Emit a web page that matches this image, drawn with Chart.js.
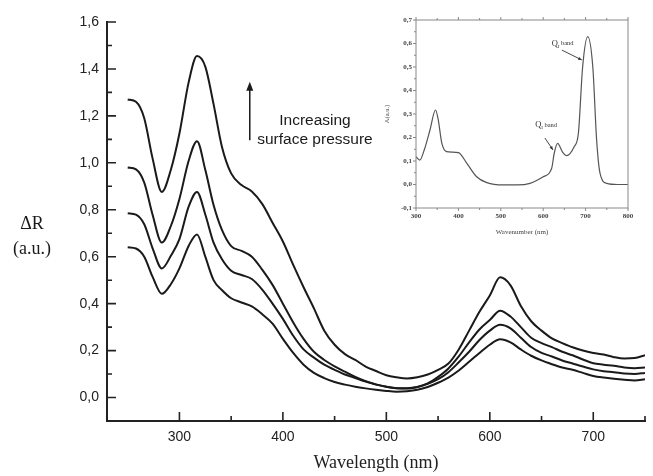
<!DOCTYPE html>
<html>
<head>
<meta charset="utf-8">
<script src="https://cdn.jsdelivr.net/npm/chart.js@4"></script>
<style>
  html, body { margin: 0; padding: 0; background: #fff; }
  #wrap { position: relative; width: 653px; height: 476px; }
  #main { position: absolute; left: 0; top: 0; }
  #inset { position: absolute; left: 370px; top: 6px; }
</style>
</head>
<body>
<div id="wrap">
  <canvas id="main" width="653" height="476" style="width:653px;height:476px"></canvas>
  <canvas id="inset" width="272" height="236" style="width:272px;height:236px"></canvas>
</div>
<script>
// main spectra: wavelength (nm) and four ΔR curves, lowest to highest surface pressure
const wavelength = [250, 258, 266, 274, 283, 292, 300, 309, 317, 325, 333, 341, 350,
  360, 370, 380, 390, 400, 410, 420, 430, 440, 450, 460, 470, 480, 490, 500,
  510, 520, 530, 540, 550, 560, 570, 580, 590, 600, 610, 620, 630, 640, 650,
  660, 670, 680, 690, 700, 710, 720, 730, 740, 750];

const curve1 = [0.64, 0.635, 0.60, 0.515, 0.442, 0.485, 0.55, 0.647, 0.695, 0.60, 0.50, 0.458, 0.423,
  0.405, 0.388, 0.355, 0.315, 0.25, 0.19, 0.14, 0.105, 0.083, 0.066, 0.055, 0.046, 0.039, 0.033, 0.028,
  0.025, 0.027, 0.033, 0.045, 0.063, 0.085, 0.115, 0.152, 0.19, 0.225, 0.248, 0.235, 0.205, 0.178, 0.158,
  0.142, 0.128, 0.118, 0.105, 0.092, 0.085, 0.08, 0.076, 0.073, 0.078];

const curve2 = [0.785, 0.779, 0.738, 0.637, 0.55, 0.606, 0.675, 0.814, 0.876, 0.78, 0.66, 0.59, 0.54,
  0.522, 0.505, 0.46, 0.40, 0.335, 0.263, 0.205, 0.17, 0.14, 0.118, 0.098, 0.083, 0.068, 0.055, 0.046,
  0.04, 0.04, 0.045, 0.058, 0.078, 0.108, 0.15, 0.195, 0.245, 0.285, 0.31, 0.295, 0.255, 0.215, 0.19,
  0.175, 0.158, 0.145, 0.132, 0.12, 0.112, 0.108, 0.102, 0.10, 0.105];

const curve3 = [0.98, 0.972, 0.916, 0.78, 0.66, 0.734, 0.846, 1.01, 1.092, 0.97, 0.82, 0.715, 0.645,
  0.625, 0.60, 0.545, 0.48, 0.40, 0.32, 0.25, 0.195, 0.16, 0.133, 0.11, 0.088, 0.07, 0.056, 0.046,
  0.04, 0.038, 0.045, 0.06, 0.088, 0.124, 0.175, 0.235, 0.29, 0.33, 0.37, 0.345, 0.30, 0.255, 0.232,
  0.215, 0.195, 0.18, 0.162, 0.146, 0.14, 0.135, 0.128, 0.125, 0.128];

const curve4 = [1.27, 1.26, 1.19, 1.02, 0.876, 0.975, 1.125, 1.345, 1.455, 1.41, 1.25, 1.07, 0.955,
  0.905, 0.878, 0.825, 0.745, 0.665, 0.565, 0.47, 0.38, 0.285, 0.225, 0.185, 0.16, 0.132, 0.113, 0.095,
  0.086, 0.081, 0.086, 0.098, 0.118, 0.145, 0.205, 0.285, 0.365, 0.435, 0.512, 0.478, 0.39, 0.325, 0.285,
  0.252, 0.232, 0.214, 0.20, 0.19, 0.183, 0.172, 0.166, 0.168, 0.18];

// inset absorption spectrum
const insetX = [300, 309, 320, 333, 346, 352, 361, 372, 385, 400, 420, 443, 467, 505, 540, 569,
  600, 620, 626, 634, 645, 655, 673, 683, 693, 705, 717, 726, 734, 750, 775, 800];
const insetA = [0.118, 0.104, 0.15, 0.232, 0.317, 0.28, 0.175, 0.14, 0.138, 0.136, 0.09, 0.033, 0.008,
  -0.002, -0.002, 0.005, 0.033, 0.069, 0.133, 0.175, 0.14, 0.123, 0.161, 0.218, 0.50, 0.629, 0.50,
  0.19, 0.048, 0.005, 0.0, 0.0];

// annotations (in data units)
const noteLines = ['Increasing', 'surface pressure'];
const noteAt = { x: 431, y: [1.18, 1.098] };
const arrowAt = { x: 368, from: 1.096, to: 1.345 };
const yTitle = ['ΔR', '(a.u.)'];
const qBands = [
  { x: 620, y: 0.60, ax0: 644, ay0: 0.572, ax1: 691, ay1: 0.53 },
  { x: 581, y: 0.253, ax0: 604, ay0: 0.198, ax1: 623, ay1: 0.147 }
];

function isMajor(v, step) {
  const r = v / step;
  return Math.abs(r - Math.round(r)) < 1e-6;
}

// tick marks with major/minor lengths (chart.js grid ticks have one length only)
const tickMarks = {
  id: 'tickMarks',
  afterDraw(chart, args, o) {
    const { ctx, chartArea: a, scales } = chart;
    const sx = scales.x, sy = scales.y;
    const dir = o.inward ? -1 : 1;
    ctx.save();
    ctx.strokeStyle = o.color;
    ctx.lineWidth = o.width;
    ctx.beginPath();
    sx.ticks.forEach(t => {
      const p = sx.getPixelForValue(t.value);
      const len = isMajor(t.value, o.xMajor) ? o.major : o.minor;
      ctx.moveTo(p, a.bottom);
      ctx.lineTo(p, a.bottom + dir * len);
      if (o.top) {
        ctx.moveTo(p, a.top);
        ctx.lineTo(p, a.top - dir * len);
      }
    });
    sy.ticks.forEach(t => {
      const p = sy.getPixelForValue(t.value);
      const len = isMajor(t.value, o.yMajor) ? o.major : o.minor;
      ctx.moveTo(a.left, p);
      ctx.lineTo(a.left - dir * len, p);
    });
    ctx.stroke();
    if (o.box) ctx.strokeRect(a.left, a.top, a.right - a.left, a.bottom - a.top);
    ctx.restore();
  }
};

const mainNotes = {
  id: 'mainNotes',
  afterDraw(chart) {
    const { ctx, chartArea: a, scales: { x, y } } = chart;
    ctx.save();
    ctx.fillStyle = '#1a1a1a';
    ctx.strokeStyle = '#1a1a1a';
    ctx.textAlign = 'center';
    ctx.textBaseline = 'middle';
    ctx.font = '15.5px "Liberation Sans", Arial, sans-serif';
    noteLines.forEach((s, i) => ctx.fillText(s, x.getPixelForValue(noteAt.x), y.getPixelForValue(noteAt.y[i])));

    const ax = x.getPixelForValue(arrowAt.x);
    const yTip = y.getPixelForValue(arrowAt.to);
    ctx.lineWidth = 1.5;
    ctx.beginPath();
    ctx.moveTo(ax, y.getPixelForValue(arrowAt.from));
    ctx.lineTo(ax, yTip + 6);
    ctx.stroke();
    ctx.beginPath();
    ctx.moveTo(ax, yTip);
    ctx.lineTo(ax - 3.5, yTip + 9);
    ctx.lineTo(ax + 3.5, yTip + 9);
    ctx.closePath();
    ctx.fill();

    ctx.font = '18px "Liberation Serif", "Times New Roman", serif';
    ctx.fillText(yTitle[0], a.left - 75, 224);
    ctx.fillText(yTitle[1], a.left - 75, 249);
    ctx.restore();
  }
};

const insetNotes = {
  id: 'insetNotes',
  afterDraw(chart) {
    const { ctx, scales: { x, y } } = chart;
    ctx.save();
    ctx.fillStyle = '#333';
    ctx.strokeStyle = '#333';
    ctx.textBaseline = 'middle';
    ctx.textAlign = 'left';
    qBands.forEach(q => {
      let px = x.getPixelForValue(q.x);
      const py = y.getPixelForValue(q.y);
      ctx.font = '8.5px "Liberation Serif", serif';
      ctx.fillText('Q', px, py);
      px += ctx.measureText('Q').width;
      ctx.font = '5px "Liberation Serif", serif';
      ctx.fillText('I', px, py + 3);
      px += ctx.measureText('I').width + 1.5;
      ctx.font = '6.5px "Liberation Serif", serif';
      ctx.fillText('band', px, py);

      const x0 = x.getPixelForValue(q.ax0), y0 = y.getPixelForValue(q.ay0);
      const x1 = x.getPixelForValue(q.ax1), y1 = y.getPixelForValue(q.ay1);
      ctx.lineWidth = 0.9;
      ctx.beginPath();
      ctx.moveTo(x0, y0);
      ctx.lineTo(x1, y1);
      ctx.stroke();
      const ang = Math.atan2(y1 - y0, x1 - x0);
      ctx.beginPath();
      ctx.moveTo(x1, y1);
      ctx.lineTo(x1 - 4 * Math.cos(ang - 0.4), y1 - 4 * Math.sin(ang - 0.4));
      ctx.lineTo(x1 - 4 * Math.cos(ang + 0.4), y1 - 4 * Math.sin(ang + 0.4));
      ctx.closePath();
      ctx.fill();
    });
    ctx.restore();
  }
};

const pairs = (xs, ys) => xs.map((v, i) => ({ x: v, y: ys[i] }));
const lineStyle = { borderColor: '#1a1a1a', borderWidth: 2, pointRadius: 0, fill: false, cubicInterpolationMode: 'monotone' };
const sans14 = { family: '"Liberation Sans", Arial, sans-serif', size: 14 };

new Chart(document.getElementById('main'), {
  type: 'line',
  data: {
    datasets: [curve1, curve2, curve3, curve4].map(c => Object.assign({ data: pairs(wavelength, c) }, lineStyle))
  },
  options: {
    responsive: false,
    animation: false,
    layout: { padding: { top: 22, right: 0, bottom: 0, left: 0 } },
    plugins: {
      legend: { display: false },
      tooltip: { enabled: false },
      tickMarks: { inward: true, major: 9, minor: 5, xMajor: 100, yMajor: 0.2, color: '#222', width: 1.6 }
    },
    scales: {
      x: {
        type: 'linear', min: 230, max: 750,
        grid: { display: false, drawTicks: false },
        border: { display: true, color: '#222', width: 2 },
        ticks: {
          stepSize: 50, autoSkip: false, maxRotation: 0, padding: 8, color: '#222', font: sans14,
          callback: v => (v % 100 === 0 ? String(v) : '')
        },
        title: {
          display: true, text: 'Wavelength (nm)', color: '#222',
          font: { family: '"Liberation Serif", "Times New Roman", serif', size: 18 },
          padding: { top: 0, bottom: 2 }
        },
        afterFit: s => { s.height = 55; }
      },
      y: {
        min: -0.1, max: 1.6,
        grid: { display: false, drawTicks: false },
        border: { display: true, color: '#222', width: 2 },
        ticks: {
          stepSize: 0.1, autoSkip: false, padding: 8, color: '#222', font: sans14,
          callback: v => {
            const n = Math.round(v * 10);
            return n >= 0 && n % 2 === 0 ? (n / 10).toFixed(1).replace('.', ',') : '';
          }
        },
        afterFit: s => { s.width = 107; }
      }
    }
  },
  plugins: [tickMarks, mainNotes]
});

const tiny = { family: '"Liberation Serif", serif', size: 7, weight: 'bold' };

new Chart(document.getElementById('inset'), {
  type: 'line',
  data: {
    datasets: [{
      data: pairs(insetX, insetA), borderColor: '#555', borderWidth: 1.2, pointRadius: 0,
      fill: false, cubicInterpolationMode: 'monotone'
    }]
  },
  options: {
    responsive: false,
    animation: false,
    layout: { padding: { top: 14, right: 14, bottom: 0, left: 13 } },
    plugins: {
      legend: { display: false },
      tooltip: { enabled: false },
      tickMarks: { inward: false, top: true, box: true, major: 3, minor: 2, xMajor: 100, yMajor: 0.1, color: '#888', width: 1 }
    },
    scales: {
      x: {
        type: 'linear', min: 300, max: 800,
        grid: { display: false, drawTicks: false },
        border: { display: false },
        ticks: {
          stepSize: 50, autoSkip: false, maxRotation: 0, padding: 4, color: '#444', font: tiny,
          callback: v => (v % 100 === 0 ? String(v) : '')
        },
        title: { display: true, text: 'Wavenumber (nm)', color: '#444', font: { family: '"Liberation Serif", serif', size: 7 }, padding: { top: 0, bottom: 6 } },
        afterFit: s => { s.height = 34; }
      },
      y: {
        min: -0.1, max: 0.7,
        grid: { display: false, drawTicks: false },
        border: { display: false },
        ticks: {
          stepSize: 0.05, autoSkip: false, padding: 4, color: '#444', font: tiny,
          callback: v => {
            const n = Math.round(v * 100);
            return n % 10 === 0 ? (n / 100).toFixed(1).replace('.', ',') : '';
          }
        },
        title: { display: true, text: 'A(a.u.)', color: '#444', font: { family: '"Liberation Serif", serif', size: 6.5 }, padding: 0 },
        afterFit: s => { s.width = 33; }
      }
    }
  },
  plugins: [tickMarks, insetNotes]
});
</script>
</body>
</html>
